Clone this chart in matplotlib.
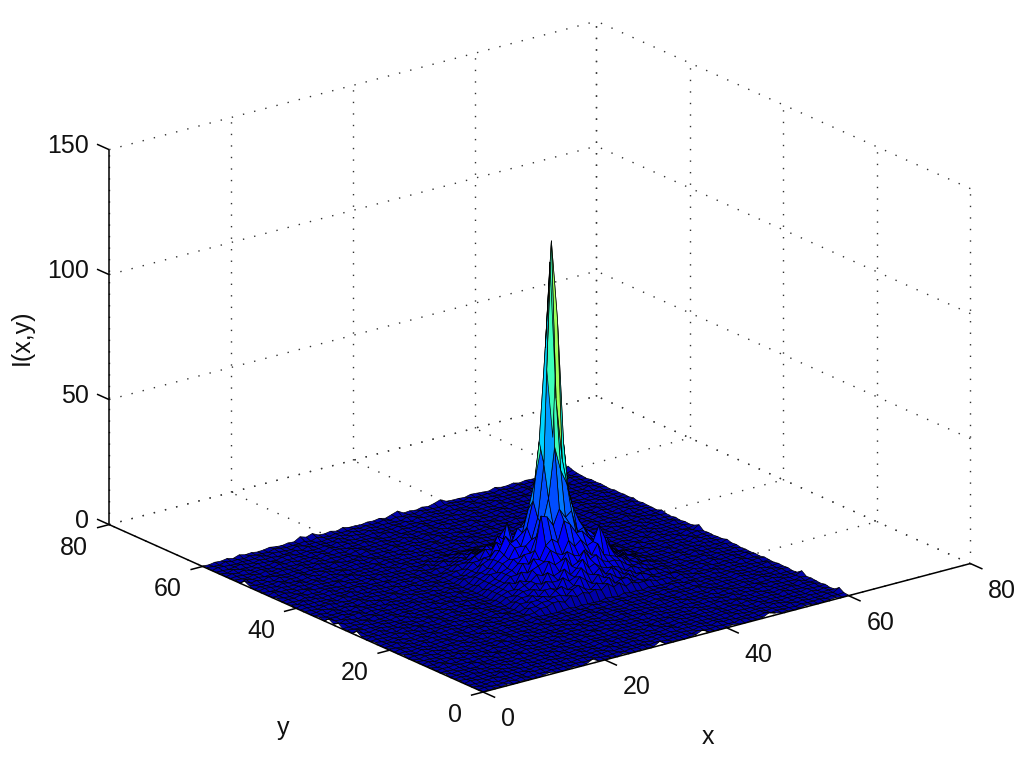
import numpy as np
import matplotlib
matplotlib.use("Agg")
import matplotlib.pyplot as plt
from mpl_toolkits.mplot3d import proj3d

plt.rcParams['font.family'] = ['Liberation Sans', 'DejaVu Sans']

x_ticks = [0, 20, 40, 60, 80]
y_ticks = [0, 20, 40, 60, 80]
z_ticks = [0, 50, 100, 150]

# floor ripple, one digit per grid point (rows are y = 0..60, columns x = 0..60)
floor_rows = [
    "1021302110241013020112031021140210130210231011204120132012301",
    "0210120301102120210310120213021021203102110320130211021120212",
    "2013021204120311023021302110202301210320412011230210312010310",
    "1102310210130210312012041023011302021130210131021042013021121",
    "0310204112012031021403011202130112403021102302110312021103020",
    "2101120310230112030211024031021203102013201211401302101203112",
    "1203012041021130410210132011203041102301120302113021204110230",
    "0112310213020112023014021102310210314021031102042011302130211",
    "3021103021104203110212031103021130210112041023110203102110402",
    "1102042013021031120301120412031021031201302120314021130211031",
    "0213110230411023021041302101203110423011021032011203041203120",
    "2041021203102130410213021130241021102310214011302310210130211",
    "1120310412031021102031120403102130312011230102142011302412010",
    "0302114021130420130211023011203041120204130211031021120310232",
    "2110230103211204013021310420113021031102110312403021141021301",
    "1032041120310213021104203011240311021203402110201312041103012",
    "0211302413021042011302113021031102140310213021340210132011240",
    "3104120112030412031120402130210413021120112043011203011302101",
    "1202301230411021130210321102302110320412031102130412402110232",
    "0321140210230134021203401120412032011203140210312011021304110",
    "2103021312011420310211023041021103104120211031402130310212041",
    "1140213041230110213041102113021402311021340112021103204113020",
    "0213102110322041120310230312041102103140210230411302112031201",
    "3102041302011312021412011042031130211402312041021102034021130",
    "1210312041103024110302140213102104120310112031302140211203102",
    "0321104120213011204110302311040213021203410220113021304110231",
    "2014021302141023021130421103021103142011021413020112402130104",
    "1102310210320114032011021304120310211302301102043112011203121",
    "0412031104021130210420130211032041020413112032011021403021301",
    "2103112031402110341021102304112013102110240311402130112104120",
    "1120401130211204011302140213021140312032011021130421031203011",
    "0312104120301321012041130210412021103104120340211203021140230",
    "2041021031120412031320112031021304211203011212031041102310412",
    "1102340210411023011042013041203011042031140131021120413021103",
    "0213021312031104213021130210311204102130210412031302104112031",
    "3011204110420130210413021402110320311402103021140210230411202",
    "1204031023011402112031104012043011021320411021304120113021140",
    "0131102140321102340210320113021401120311023140210321104031202",
    "2103412011032014011302141021130234010211302041120310211402110",
    "1210230411203110230412011032041102130412031130210403102130321",
    "0312110214021304120113042031101203041102140210321120411032014",
    "2041302110340211031204102110430210311203021304112031021401120",
    "1103021402112041302110213041120413021104120311023041120310231",
    "0214110321031120411023041302110321041130210420113021302114021",
    "3102041120412031021304110213041021103204113021104120411032102",
    "1130210321103402113021120413021304120112034021130211403021140",
    "0412031140213011204130211032110420131021120311402310214011203",
    "2103114021130420112031041203021130412011304120213041120310231",
    "1320411023041102310421103021140213021340211021340211032041102",
    "0211302140312011340210312041120310421130210413021103140213011",
    "3102041130211042013021104123011402110320411203104120311021402",
    "1130421021304110231041203011304120311042013021130412011340210",
    "0412011320411302110340211304102113021340210411203021140312031",
    "2103140211021403120411023011402130421103102340211304120110412",
    "1210231041302113042011403102110340213011402110321041130211031",
    "0314021140212031041130211042031140211320411203011420312041102",
    "2041103210341021130412011302140211032104120314021103041120310",
    "1102410312011304021140320411021304113021104120311204021130421",
    "0321021140321041120213041130211042031104213041102113042011302",
    "2104120311042011304102113021140312041102310411203104120310214",
    "1021304120131021140213041102130411203140211032104113021120310",
]
noise_unit = 0.2

# small bumps seen along the edges of the floor (x, y, value)
edge_bumps = [(18, 0, 1.6), (29, 0, 1.6), (36, 0, 1.6), (47, 0, 1.6),
              (0, 27, 1.6), (0, 31, 1.6), (0, 33, 1.6), (0, 51, 1.6),
              (16, 60, 1.6), (18, 60, 1.6), (32, 60, 1.6), (39, 60, 1.6),
              (60, 2, 1.6), (60, 10, 1.6), (60, 32, 1.6), (60, 60, 1.6)]

# central hump, x = 23..47 across, y = 19..43 down
hump_x0 = 23
hump_y0 = 19
hump_rows = [
    [1, 2, 2, 3, 3, 2, 4, 3, 4, 3, 4, 3, 5, 3, 4, 2, 3, 2, 2, 2, 1, 1, 1, 0, 1],
    [2, 2, 3, 3, 4, 4, 3, 5, 6, 4, 3, 5, 4, 6, 3, 4, 4, 2, 2, 1, 2, 1, 1, 1, 1],
    [1, 3, 3, 4, 3, 5, 6, 4, 5, 8, 6, 4, 7, 5, 6, 4, 3, 4, 2, 3, 2, 1, 1, 1, 0],
    [2, 2, 4, 3, 5, 5, 4, 8, 6, 7, 10, 7, 6, 8, 5, 7, 5, 3, 4, 2, 2, 2, 2, 1, 1],
    [2, 3, 3, 5, 4, 7, 6, 6, 10, 7, 9, 12, 8, 9, 7, 6, 6, 5, 3, 4, 3, 2, 1, 1, 1],
    [1, 3, 4, 4, 6, 5, 9, 7, 8, 13, 9, 10, 14, 10, 11, 8, 7, 7, 6, 4, 3, 3, 2, 1, 1],
    [2, 2, 4, 5, 6, 8, 7, 12, 10, 11, 14, 12, 11, 13, 10, 14, 9, 8, 7, 6, 4, 3, 2, 2, 1],
    [2, 3, 3, 6, 5, 9, 10, 11, 15, 13, 12, 17, 14, 16, 13, 14, 20, 14, 9, 6, 5, 3, 3, 1, 1],
    [2, 3, 5, 4, 8, 7, 12, 11, 16, 18, 16, 24, 22, 18, 18, 15, 13, 12, 13, 7, 5, 4, 3, 2, 1],
    [2, 3, 4, 6, 6, 10, 9, 14, 27, 26, 22, 28, 24, 26, 17, 18, 14, 13, 11, 8, 6, 4, 2, 2, 1],
    [2, 3, 4, 6, 7, 9, 12, 12, 18, 22, 32, 52, 42, 36, 26, 20, 16, 14, 12, 9, 6, 4, 3, 1, 1],
    [1, 3, 4, 6, 7, 10, 10, 14, 16, 24, 45, 125, 70, 45, 32, 22, 16, 14, 11, 8, 5, 4, 2, 2, 1],
    [2, 3, 5, 5, 8, 9, 13, 13, 20, 30, 53, 90, 132, 100, 50, 26, 20, 13, 12, 8, 4, 3, 3, 1, 1],
    [1, 3, 4, 6, 8, 10, 14, 15, 17, 26, 36, 48, 80, 52, 34, 22, 16, 14, 10, 7, 5, 3, 2, 2, 1],
    [1, 3, 4, 5, 8, 11, 16, 13, 18, 18, 26, 34, 45, 32, 22, 15, 15, 10, 9, 6, 4, 4, 2, 1, 1],
    [2, 2, 3, 6, 7, 10, 9, 20, 13, 16, 19, 21, 20, 18, 17, 12, 12, 11, 7, 6, 5, 2, 3, 1, 0],
    [1, 2, 3, 4, 7, 7, 12, 10, 14, 13, 15, 14, 16, 13, 12, 13, 9, 7, 6, 6, 3, 3, 1, 2, 1],
    [1, 1, 3, 5, 5, 9, 8, 13, 11, 12, 11, 13, 10, 12, 9, 8, 10, 7, 5, 4, 4, 2, 2, 1, 1],
    [1, 2, 2, 4, 6, 7, 9, 8, 11, 14, 10, 9, 11, 8, 9, 7, 6, 6, 4, 5, 3, 2, 1, 1, 0],
    [1, 1, 3, 3, 4, 5, 6, 8, 7, 9, 7, 8, 6, 7, 6, 6, 5, 4, 4, 3, 3, 1, 2, 1, 1],
    [0, 1, 2, 3, 3, 5, 4, 5, 6, 5, 6, 5, 6, 5, 4, 5, 3, 4, 2, 3, 2, 2, 1, 1, 0],
    [1, 1, 1, 2, 3, 2, 4, 3, 4, 4, 3, 4, 3, 4, 3, 2, 3, 2, 3, 1, 2, 1, 1, 0, 1],
    [0, 1, 2, 1, 2, 3, 2, 3, 2, 3, 3, 2, 3, 2, 3, 2, 2, 2, 1, 2, 1, 1, 0, 1, 0],
    [1, 0, 1, 1, 1, 2, 1, 2, 2, 1, 2, 2, 1, 2, 1, 2, 1, 1, 1, 1, 1, 0, 1, 0, 1],
    [0, 1, 0, 1, 1, 1, 1, 1, 1, 1, 1, 1, 1, 1, 1, 1, 1, 0, 1, 1, 0, 1, 0, 1, 0],
]
# colour values of the top facets (x, y, value)
facet_colours = [(34, 31, 86), (33, 30, 40), (34, 30, 52), (35, 30, 68), (34, 29, 52), (35, 31, 52)]
colour_max = 135
colour_floor = 5

Z = np.array([[int(c) for c in row[:61].ljust(61, "0")] for row in floor_rows], dtype=float) * noise_unit
for bx, by, val in edge_bumps:
    Z[by, bx] = val
hump = np.array(hump_rows, dtype=float)
Z[hump_y0:hump_y0 + hump.shape[0], hump_x0:hump_x0 + hump.shape[1]] = hump
X, Y = np.meshgrid(np.arange(61), np.arange(61))

C = Z.copy()
for fx, fy, val in facet_colours:
    C[fy, fx] = val

fig = plt.figure(figsize=(10.24, 7.62), dpi=100)
ax = fig.add_axes([0.1450, 0.0185, 0.7441, 1.0], projection='3d', proj_type='ortho', computed_zorder=False)
ax.set_xlim(0, 80, view_margin=0)
ax.set_ylim(0, 80, view_margin=0)
ax.set_zlim(0, 150, view_margin=0)
ax.set_box_aspect((1, 1, 0.65), zoom=1.218)
ax.view_init(elev=20.1, azim=-127.5)
ax.set_axis_off()

# dotted grid on the floor and the two back walls
dots = dict(color='#333333', lw=1.0, ls=(0, (1, 7.3)), zorder=1, clip_on=False)
for t in x_ticks:
    ax.plot([t, t], [0, 80], [0, 0], **dots)
    ax.plot([t, t], [80, 80], [0, 150], **dots)
for t in y_ticks:
    ax.plot([0, 80], [t, t], [0, 0], **dots)
    ax.plot([80, 80], [t, t], [0, 150], **dots)
for t in z_ticks:
    ax.plot([0, 80], [80, 80], [t, t], **dots)
    ax.plot([80, 80], [0, 80], [t, t], **dots)

colors = plt.cm.jet(np.clip((C + colour_floor) / colour_max, 0, 1))
ax.plot_surface(X, Y, Z, rstride=1, cstride=1, facecolors=colors, shade=False,
                edgecolor='black', linewidth=0.5, antialiased=True, zorder=2)

# solid axes
solid = dict(color='black', lw=1.1, zorder=3, solid_capstyle='butt', clip_on=False)
ax.plot([0, 80], [0, 0], [0, 0], **solid)
ax.plot([0, 0], [0, 80], [0, 0], **solid)
ax.plot([0, 0], [80, 80], [0, 150], **solid)
for t in x_ticks:
    ax.plot([t, t], [0, -2.6], [0, 0], **solid)
for t in y_ticks:
    ax.plot([0, -2], [t, t], [0, 0], **solid)
for t in z_ticks:
    ax.plot([0, 0], [80, 82.6], [t, t], **solid)


def label_at(px, py, pz, text, dx, dy, ha='center'):
    xp, yp, _ = proj3d.proj_transform(px, py, pz, ax.get_proj())
    ax.annotate(text, (xp, yp), xytext=(dx, dy), textcoords='offset pixels', annotation_clip=False,
                ha=ha, va='center', fontsize=18, color='#111111', zorder=4)


for t in x_ticks:
    label_at(t, 0, 0, str(t), 25 if t == 0 else 32, -27, )
for t in y_ticks:
    label_at(0, t, 0, str(t), -28 if t == 0 else -35, -23)
for t in z_ticks:
    label_at(0, 80, t, str(t), -20, 4, ha='right')

fig.text(708 / 1024, 1 - 737 / 762, "x", fontsize=18, ha='center', va='center', color='#111111')
fig.text(283 / 1024, 1 - 728 / 762, "y", fontsize=18, ha='center', va='center', color='#111111')
fig.text(22 / 1024, 1 - 337 / 762, "I(x,y)", fontsize=18, rotation=90, ha='center', va='center', color='#111111')

fig.savefig("out.png", dpi=100)
